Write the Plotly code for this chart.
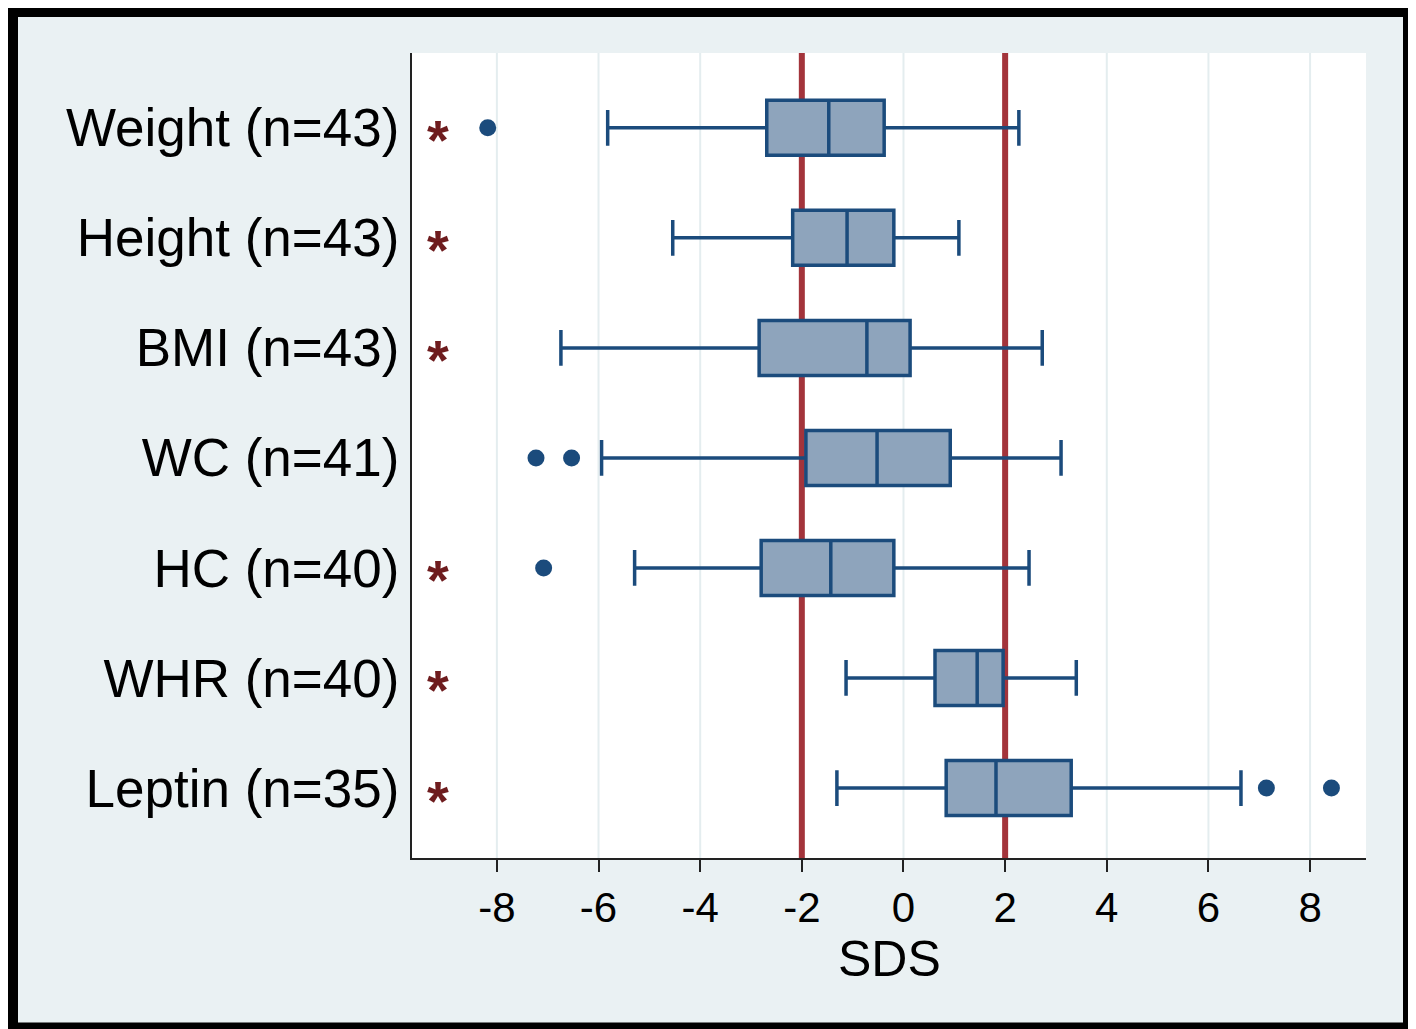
import plotly.graph_objects as go

# ---- data ----
categories = ["Weight (n=43)", "Height (n=43)", "BMI (n=43)", "WC (n=41)",
              "HC (n=40)", "WHR (n=40)", "Leptin (n=35)"]
lower_whisker = [-5.82, -4.54, -6.74, -5.94, -5.29, -1.13, -1.31]
q1_vals       = [-2.69, -2.18, -2.84, -1.92, -2.80, 0.62, 0.84]
median_vals   = [-1.47, -1.11, -0.72, -0.52, -1.43, 1.45, 1.82]
q3_vals       = [-0.38, -0.19, 0.13, 0.92, -0.19, 1.96, 3.30]
upper_whisker = [2.27, 1.09, 2.73, 3.10, 2.47, 3.40, 6.64]
outlier_cat   = ["Weight (n=43)", "WC (n=41)", "WC (n=41)", "HC (n=40)",
                 "Leptin (n=35)", "Leptin (n=35)"]
outlier_vals  = [-8.18, -7.23, -6.53, -7.08, 7.14, 8.42]
significant   = [True, True, True, False, True, True, True]
ref_lines     = [-2, 2]
x_ticks       = [-8, -6, -4, -2, 0, 2, 4, 6, 8]
x_tick_text   = ["-8", "-6", "-4", "-2", "0", "2", "4", "6", "8"]
x_title       = "SDS"

# ---- layout geometry (page body has 8px margin) ----
W, H = 1408, 1021
ML, MR, MT, MB = 404, 50, 45, 171
PW, PH = W - ML - MR, H - MT - MB
Y_RANGE = [-0.636, 6.68]

ypos = {c: len(categories) - 1 - i for i, c in enumerate(categories)}
yv = [ypos[c] for c in categories]

FONT = "Liberation Sans, Arial, sans-serif"
BOX_LINE = "#1B4B7C"
BOX_FILL = "#8EA4BC"
RED = "#A3343B"
GRID = "#E4EDEF"

fig = go.Figure()

fig.add_trace(go.Box(
    orientation="h", y=yv,
    q1=q1_vals, median=median_vals, q3=q3_vals,
    lowerfence=lower_whisker, upperfence=upper_whisker,
    width=0.5, whiskerwidth=0.65,
    fillcolor=BOX_FILL, line=dict(color=BOX_LINE, width=3.5),
    boxpoints=False, showlegend=False, hoverinfo="skip",
))

fig.add_trace(go.Scatter(
    x=outlier_vals, y=[ypos[c] for c in outlier_cat], mode="markers",
    marker=dict(color=BOX_LINE, size=17, line=dict(width=0)),
    showlegend=False, hoverinfo="skip",
))


def px(x):
    return (x - ML) / PW


def py(y):
    return (H - MB - y) / PH


shapes = []
# gridlines (drawn as shapes so that the reference lines sit above them)
for v in x_ticks:
    shapes.append(dict(type="line", xref="x", yref="paper", x0=v, x1=v, y0=0, y1=1,
                       line=dict(color=GRID, width=2), layer="below"))
for v in ref_lines:
    shapes.append(dict(type="line", xref="x", yref="paper", x0=v, x1=v, y0=0, y1=1,
                       line=dict(color=RED, width=6), layer="below"))

shapes += [
    dict(type="line", xref="paper", yref="paper", x0=px(4), x1=px(4), y0=py(-20), y1=py(H + 20),
         line=dict(color="black", width=12)),
    dict(type="line", xref="paper", yref="paper", x0=px(1402), x1=px(1402), y0=py(-20), y1=py(H + 20),
         line=dict(color="black", width=14)),
    dict(type="line", xref="paper", yref="paper", x0=px(-20), x1=px(W + 20), y0=py(3.5), y1=py(3.5),
         line=dict(color="black", width=11)),
    dict(type="line", xref="paper", yref="paper", x0=px(-20), x1=px(W + 20), y0=py(1018.5), y1=py(1018.5),
         line=dict(color="black", width=8)),
]

annotations = []
for c, s in zip(categories, significant):
    if s:
        annotations.append(dict(x=-9.15, y=ypos[c], xref="x", yref="y", text="<b>*</b>",
                                showarrow=False, yshift=-12,
                                font=dict(family=FONT, size=56, color="#6E1C1E")))
annotations.append(dict(x=0.5, y=py(951), xref="paper", yref="paper", text=x_title,
                        showarrow=False, xanchor="center", yanchor="middle",
                        font=dict(family=FONT, size=50, color="black")))

fig.update_layout(
    width=W, height=H,
    margin=dict(l=ML, r=MR, t=MT, b=MB),
    paper_bgcolor="#EAF1F3", plot_bgcolor="white",
    font=dict(family=FONT, color="black"),
    shapes=shapes, annotations=annotations,
    xaxis=dict(range=[-9.67, 9.1], tickvals=x_ticks, ticktext=x_tick_text, ticks="outside",
               ticklen=12, tickwidth=2, tickcolor="#222", showline=True, linecolor="#222",
               linewidth=2, showgrid=False, zeroline=False, tickfont=dict(size=42)),
    yaxis=dict(range=Y_RANGE, tickvals=yv, ticktext=categories, ticks="",
               showline=True, linecolor="#222",
               linewidth=2, showgrid=False, zeroline=False, tickfont=dict(size=53)),
)

fig.write_html("out.html")
